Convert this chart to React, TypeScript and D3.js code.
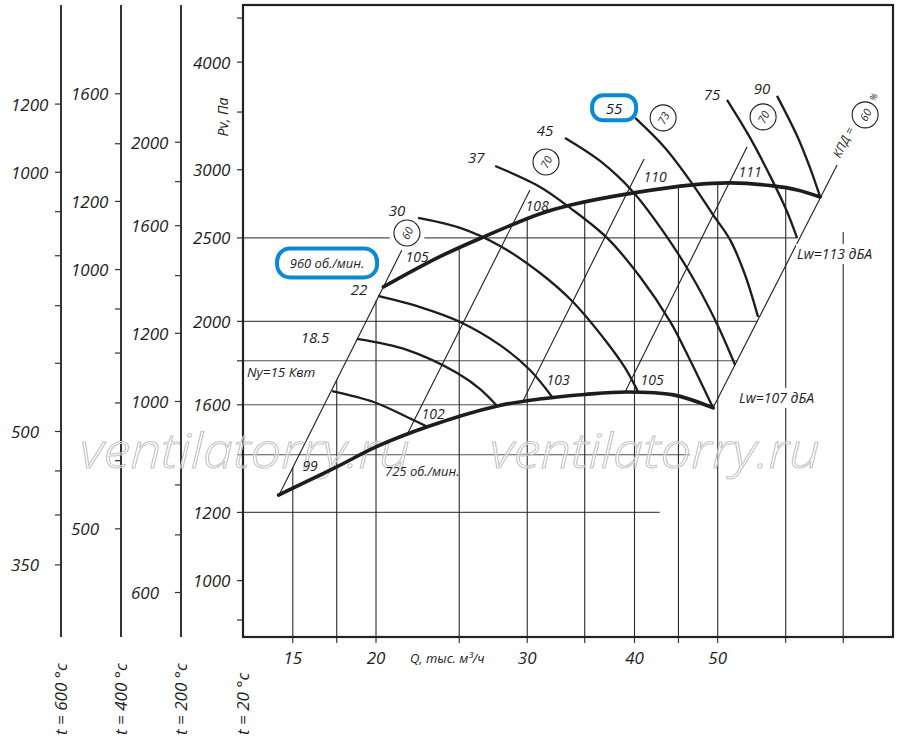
import React from "react";
import * as d3 from "d3";

type Pt = [number, number];

// Q, тыс. м³/ч ; Pv, Па (t = 20 °C)
const rpm725: Pt[] = [[15.4, 1257], [18, 1355], [20, 1430], [23, 1510], [27.7, 1595], [31, 1625], [35, 1645], [39.2, 1656], [44.4, 1643], [49.4, 1587]];
const rpm960: Pt[] = [[20.4, 2193], [23.7, 2376], [26.7, 2507], [31, 2665], [33.7, 2730], [39.9, 2820], [46.8, 2881], [51.7, 2896], [58, 2873], [61.9, 2842], [65.8, 2789]];

// power curves Ny, кВт
const nyNames = ["Ny=15 Квт", "18.5", "22", "30", "37", "45", "55", "75", "90"];
const nyCurves: Pt[][] = [
  [[17.78, 1660], [19.84, 1613], [21.73, 1549], [22.99, 1508]],
  [[19.0, 1908], [21.73, 1853], [24.86, 1742], [26.44, 1669], [27.74, 1591]],
  [[20.11, 2141], [22.51, 2078], [25.06, 1997], [27.89, 1877], [30.22, 1756], [32.07, 1634]],
  [[22.39, 2638], [25.06, 2568], [27.89, 2447], [31.05, 2276], [33.83, 2112], [36.96, 1903], [39.0, 1766], [40.39, 1656]],
  [[27.53, 3030], [31.05, 2865], [33.65, 2709], [37.16, 2500], [40.61, 2252], [44.0, 2000], [46.42, 1804], [49.38, 1587]],
  [[33.2, 3266], [36.47, 3071], [39.85, 2827], [43.07, 2554], [46.42, 2276], [49.64, 2008], [52.38, 1780]],
  [[40.07, 3446], [43.42, 3180], [46.8, 2881], [49.38, 2659], [51.69, 2487], [53.81, 2264], [55.71, 2024]],
  [[51.26, 3616], [54.54, 3266], [58.0, 2904], [60.22, 2681], [61.85, 2500]],
  [[58.62, 3655], [62.02, 3266], [64.05, 3014], [65.8, 2789]],
];
const nyLabelAt: Pt[] = [[14.15, 1747], [16.98, 1918], [19.11, 2182], [21.16, 2694], [26.16, 3105], [31.47, 3337], [37.87, 3540], [49.24, 3675], [56.32, 3735]];

// КПД lines (P ~ Q²)
const etaValues = ["60", "70", "73", "70", "60"];
const etaFrom: Pt[] = [[15.42, 1257], [21.73, 1477], [29.58, 1608], [39.0, 1656], [49.38, 1587]];
const etaTo: Pt[] = [[21.44, 2421], [30.22, 2842], [41.04, 3088], [54.1, 3189], [68.86, 3039]];
const etaCircle: Pt[] = [[21.73, 2533], [31.55, 3063], [43.19, 3446], [56.47, 3455], [74.24, 3474]];

// Lw, дБА at the crossings
const lwTexts = ["99", "102", "103", "105", "105", "108", "110", "111"];
const lwAt: Pt[] = [[16.76, 1362], [23.31, 1565], [32.59, 1710], [41.93, 1714], [22.33, 2376], [30.8, 2723], [42.27, 2943], [54.54, 2983]];

// grid
const hGrid: Pt[] = [[2500, 62], [2000, 55.6], [1800, 52.7], [1600, 49.5], [1400, 46.4], [1200, 42.8]];
const vGrid: Pt[] = [[16, 1352], [18, 1711], [20, 2115], [25, 2433], [30, 2630], [35, 2750], [40, 2822], [45, 2865], [50, 2891], [60, 2857], [70, 2540]];
const qLabels: [number, string][] = [[16, "15"], [20, "20"], [30, "30"], [40, "40"], [50, "50"]];

// temperature scales
const temps = [600, 400, 200, 20];
const tTicks = [
  [1200, 1000, 900, 800, 700, 600, 500, 450, 400, 350],
  [1600, 1400, 1200, 1000, 900, 800, 700, 600, 500],
  [2000, 1800, 1600, 1400, 1200, 1000, 800, 700, 600],
  [4500, 4000, 3500, 3000, 2500, 2000, 1800, 1600, 1400, 1200, 1000, 900],
];
const tLabels = [
  [1200, 1000, 500, 350],
  [1600, 1200, 1000, 500],
  [2000, 1600, 1200, 1000, 600],
  [4000, 3000, 2500, 2000, 1600, 1200, 1000],
];

const FONT = "'Open Sans', 'DejaVu Sans', sans-serif";
const INK = "#1d1d1d";
const BLUE = "#0a8ad4";

export default function App() {
  const x = d3.scaleLog().domain([14, 80]).range([243, 893]);
  const y = d3.scaleLog().domain([860, 4660]).range([637, 5]);
  const curve = d3.line<Pt>().x((d) => x(d[0])).y((d) => y(d[1])).curve(d3.curveCatmullRom.alpha(0.5));
  const [x0, x1] = x.range();
  const [y0, y1] = y.range();
  const axisX = [61, 121, 181, x0];
  const ang = -63.4;

  const px = (p: Pt) => [x(p[0]), y(p[1])];

  return (
    <svg width={900} height={741} style={{ position: "absolute", left: 0, top: 0, background: "#fff" }}
      fontFamily={FONT} fontStyle="italic" fill={INK}>
      <rect width={900} height={741} fill="#fff" />

      {/* grid */}
      {hGrid.map(([p, qEnd]) => (
        <line key={"h" + p} x1={x0} x2={x(qEnd)} y1={y(p)} y2={y(p)} stroke="#505050" strokeWidth={1.1} />
      ))}
      {vGrid.map(([q, pTop]) => (
        <line key={"v" + q} x1={x(q)} x2={x(q)} y1={y(pTop)} y2={y0 + 6} stroke="#2a2a2a" strokeWidth={1.1} />
      ))}

      {/* temperature axes */}
      {temps.map((t, i) => {
        const k = (273 + t) / 293;
        const ax = axisX[i];
        return (
          <g key={"t" + t}>
            {i < 3 && <line x1={ax} x2={ax} y1={y1} y2={y0} stroke="#333" strokeWidth={2} />}
            {tTicks[i].map((p) => (
              <line key={p} x1={ax - 6} x2={ax} y1={y(p * k)} y2={y(p * k)} stroke="#333" strokeWidth={1.2} />
            ))}
            {tLabels[i].map((p) => (
              <text key={"l" + p} x={ax - 50} y={y(p * k)} dominantBaseline="central" fontSize={17}>{p}</text>
            ))}
            <text transform={`translate(${ax + 6},735) rotate(-90)`} fontSize={17}>{`t = ${t} °c`}</text>
          </g>
        );
      })}

      {/* frame */}
      <rect x={x0} y={y1} width={x1 - x0} height={y0 - y1} fill="none" stroke="#222" strokeWidth={2.2} />
      <text transform={`translate(228,117) rotate(-90)`} textAnchor="middle" fontSize={14}>Pv, Па</text>

      {qLabels.map(([q, s]) => (
        <text key={"q" + q} x={x(q)} y={664} textAnchor="middle" fontSize={17}>{s}</text>
      ))}
      <text x={410} y={663} fontSize={13}>Q, тыс. м³/ч</text>

      {/* watermark */}
      {[80, 490].map((wx) => (
        <text key={"w" + wx} x={wx} y={468} fontSize={48} fontWeight={300} textLength={330} lengthAdjust="spacingAndGlyphs"
          fill="#fff" fillOpacity={0.35} stroke="#c4c4c4" strokeWidth={1}>ventilatorry.ru</text>
      ))}

      {/* КПД lines */}
      {etaFrom.map((a, i) => {
        const [ax1, ay1] = px(a);
        const [ax2, ay2] = px(etaTo[i]);
        return <line key={"e" + i} x1={ax1} y1={ay1} x2={ax2} y2={ay2} stroke={INK} strokeWidth={1.1} />;
      })}
      {etaCircle.map((c, i) => {
        const [cx, cy] = px(c);
        return (
          <g key={"c" + i}>
            <circle cx={cx} cy={cy} r={18} fill="#fff" />
            <circle cx={cx} cy={cy} r={13} fill="#fff" stroke={INK} strokeWidth={1.1} />
            <text transform={`translate(${cx},${cy}) rotate(${ang})`} textAnchor="middle" dominantBaseline="central" fontSize={11}>{etaValues[i]}</text>
          </g>
        );
      })}
      <text transform={`translate(${x(69.4)},${y(3090)}) rotate(${ang})`} fontSize={12}>КПД =</text>
      <text transform={`translate(${x(75.85)},${y(3645)}) rotate(${ang})`} textAnchor="middle" dominantBaseline="central" fontSize={9}>%</text>

      {/* power curves */}
      {nyCurves.map((c, i) => (
        <path key={"n" + i} d={curve(c) || ""} fill="none" stroke={INK} strokeWidth={2.3} />
      ))}
      {nyLabelAt.map((p, i) => {
        const [lx, ly] = px(p);
        const first = i === 0;
        return (
          <g key={"nl" + i}>
            {nyNames[i] === "55" && (
              <rect x={lx - 22} y={ly - 12.5} width={44} height={25} rx={11} fill="#fff" stroke={BLUE} strokeWidth={4} />
            )}
            <text x={lx} y={ly} textAnchor={first ? "start" : "middle"} dominantBaseline="central" fontSize={first ? 13.5 : 15}>{nyNames[i]}</text>
          </g>
        );
      })}

      {/* rpm curves */}
      <path d={curve(rpm725) || ""} fill="none" stroke={INK} strokeWidth={3.6} strokeLinecap="round" />
      <path d={curve(rpm960) || ""} fill="none" stroke={INK} strokeWidth={3.6} strokeLinecap="round" />

      {lwAt.map((p, i) => {
        const [lx, ly] = px(p);
        return (
          <text key={"lw" + i} x={lx} y={ly} textAnchor="middle" dominantBaseline="central" fontSize={14}>{lwTexts[i]}</text>
        );
      })}

      {/* rpm labels */}
      <g>
        <rect x={x(17.54) - 50} y={y(2338) - 14.5} width={100} height={29} rx={13} fill="#fff" stroke={BLUE} strokeWidth={4} />
        <text x={x(17.54)} y={y(2338)} textAnchor="middle" dominantBaseline="central" fontSize={13}>960 об./мин.</text>
      </g>
      <text x={x(20.49)} y={y(1341)} dominantBaseline="central" fontSize={13}>725 об./мин.</text>

      {/* noise labels */}
      <rect x={x(61.85) - 1} y={y(2395) - 10} width={84} height={20} fill="#fff" />
      <text x={x(61.85)} y={y(2395)} dominantBaseline="central" fontSize={14}>Lw=113 дБА</text>
      <rect x={x(52.94) - 1} y={y(1630) - 10} width={84} height={20} fill="#fff" />
      <text x={x(52.94)} y={y(1630)} dominantBaseline="central" fontSize={14}>Lw=107 дБА</text>
    </svg>
  );
}
